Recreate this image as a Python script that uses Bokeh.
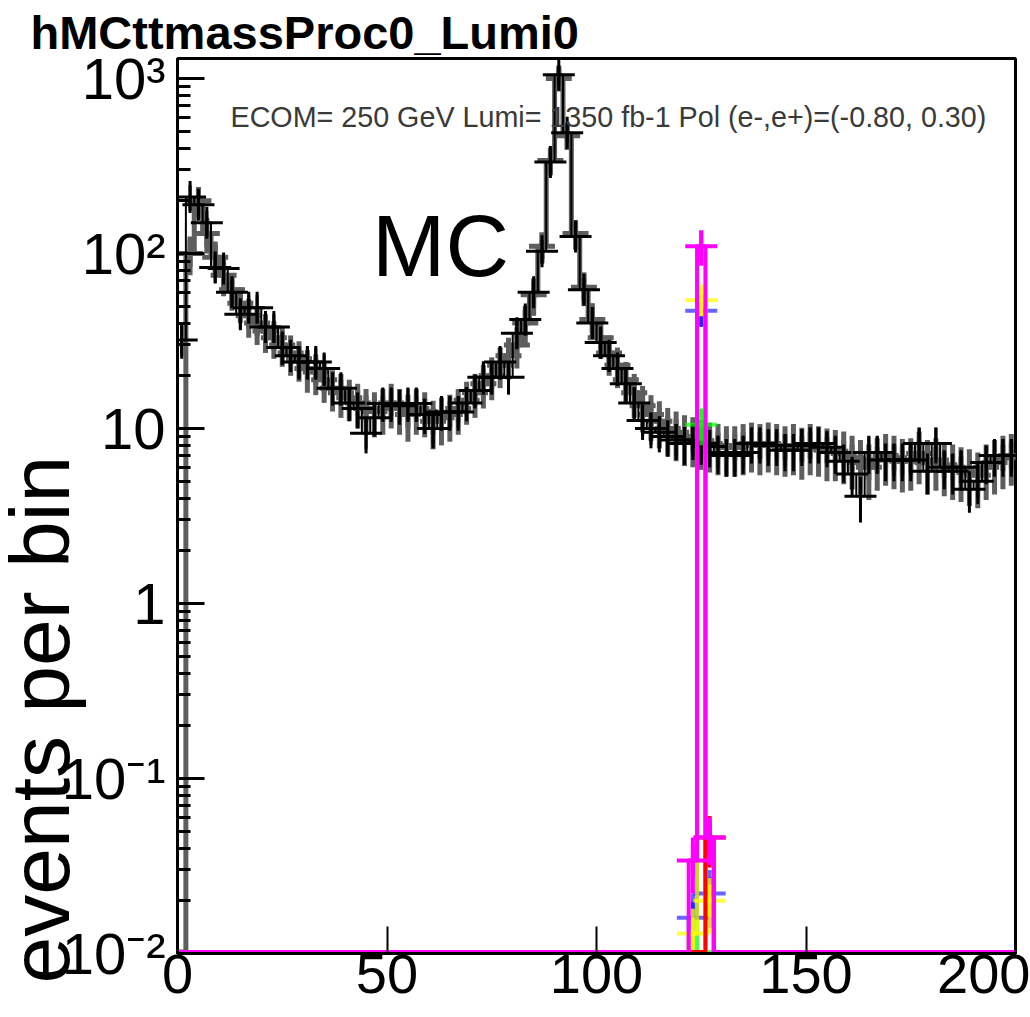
import math
from bokeh.plotting import figure
from bokeh.models import Range1d, FixedTicker, Label, ColumnDataSource, Title
from bokeh.embed import file_html
from bokeh.resources import INLINE

# ---------------- data ----------------
x_start, x_end = 0.0, 200.0
y_start, y_end = 0.01, 1300.0
bin_width = 2.0
n_bins = 100

# MC (black, with errors) - 2 GeV bins, centres 1..199
mc_black = [
    32, 210, 190, 150, 83, 82, 60, 45, 49, 49,
    38, 38, 29, 26, 24, 24, 24, 22, 17, 17,
    14, 13, 9.4, 11.5, 13.9, 13.9, 13.5, 13.9, 13.9, 12,
    10, 12.4, 12.4, 12.4, 14, 16.5, 19.6, 19.6, 24, 19.6,
    35, 42, 60, 103, 333, 1050, 490, 125, 62, 40,
    31, 26, 22, 18, 14, 11.1, 10, 9.5, 9, 8.6,
    8.2, 8.6, 8.2, 7.9, 7.3, 7.0, 7.0, 7.3, 8.2, 8.2,
    8.0, 8.0, 7.5, 7.5, 8.0, 8.2, 8.2, 7.8, 7.3, 6.5,
    5.5, 4.1, 7.3, 7.3, 6.6, 6.6, 6.6, 6.6, 8.2, 5.7,
    8.2, 6.0, 5.7, 6.0, 4.5, 5.0, 6.4, 7.0, 7.0, 7.0,
]
mc_black_err = [
    7, 35, 30, 25, 15, 15, 11, 8, 9, 9,
    7, 7, 6, 5, 5, 5, 5, 4.5, 3.5, 3.5,
    3, 3, 2.2, 2.5, 3, 3, 3, 3, 3, 2.7,
    2.3, 2.7, 2.7, 2.7, 3, 3.5, 4, 4, 5, 4,
    6, 8, 10, 16, 40, 130, 60, 18, 10, 7,
    6, 5, 4.5, 4, 3, 2.5, 2.3, 2.2, 2.1, 2,
    2, 2, 2, 1.9, 1.8, 1.7, 1.7, 1.8, 1.9, 1.9,
    1.9, 1.9, 1.8, 1.8, 1.9, 1.9, 1.9, 1.8, 1.8, 1.6,
    1.4, 1.2, 1.8, 1.8, 1.6, 1.6, 1.6, 1.6, 1.9, 1.5,
    1.9, 1.5, 1.5, 1.5, 1.2, 1.3, 1.6, 1.7, 1.7, 1.7,
]
# MC (grey histogram)
mc_gray = [
    0, 100, 200, 130, 95, 75, 62, 52, 44, 40,
    36, 33, 30, 27, 25, 22, 21, 19, 17, 16,
    15, 14, 13, 12.5, 13, 14, 13, 12, 13, 12.5,
    11, 11.5, 12, 13, 14.5, 16, 18, 20, 23, 26,
    30, 40, 58, 110, 340, 1000, 470, 130, 64, 42,
    33, 27, 23, 19, 16, 13.5, 12, 11, 10, 9.5,
    9, 8.8, 8.5, 8.2, 8, 7.8, 7.8, 8, 8.2, 8,
    8.2, 8, 7.8, 8, 7.6, 8, 7.8, 7.5, 7.4, 7.2,
    6.8, 6.4, 6.0, 6.6, 7, 6.8, 6.5, 6.6, 7.2, 6.4,
    6.6, 6.2, 6.0, 5.8, 5.6, 5.4, 6.0, 6.4, 6.8, 7.0,
]
mc_gray_err = [
    0, 25, 40, 30, 22, 18, 15, 12, 11, 10,
    9, 8, 7.5, 7, 6.5, 6, 5.5, 5, 4.5, 4.5,
    4, 4, 3.8, 3.6, 3.8, 4, 3.8, 3.6, 3.8, 3.6,
    3.4, 3.5, 3.6, 3.8, 4, 4.5, 5, 5.5, 6, 7,
    8, 10, 14, 22, 60, 150, 80, 25, 14, 10,
    8, 7, 6, 5, 4.5, 4, 3.5, 3.3, 3.1, 3,
    2.9, 2.8, 2.7, 2.6, 2.6, 2.5, 2.5, 2.6, 2.6, 2.6,
    2.6, 2.6, 2.5, 2.6, 2.5, 2.6, 2.5, 2.5, 2.4, 2.4,
    2.3, 2.2, 2.1, 2.2, 2.3, 2.3, 2.2, 2.2, 2.4, 2.2,
    2.2, 2.1, 2.1, 2.0, 2.0, 1.9, 2.1, 2.2, 2.3, 2.3,
]

# Higgs signal histograms (non-empty bins only)
sig_centers = [123, 125, 127]
sig_green = [0, 10.5, 0]
sig_green_err = [0, 2.5, 0]
sig_blue = [0.016, 47, 0.022]
sig_blue_err = [0.006, 9, 0.008]
sig_yellow = [0.013, 54, 0.020]
sig_yellow_err = [0.005, 10, 0.007]
sig_red = [0, 0, 0.046]
sig_red_err = [0, 0, 0.015]
sig_magenta = [0.034, 110, 0.046]
sig_magenta_err = [0.012, 25, 0.014]

x_ticks = [0, 50, 100, 150, 200]
y_ticks = [0.01, 0.1, 1, 10, 100, 1000]
y_tick_labels = {0.01: "10\u207b\u00b2", 0.1: "10\u207b\u00b9", 1: "1", 10: "10",
                 100: "10\u00b2", 1000: "10\u00b3"}

title_text = "hMCttmassProc0_Lumi0"
info_text = "ECOM=  250 GeV Lumi= 1350 fb-1 Pol (e-,e+)=(-0.80, 0.30)"
mc_text = "MC"
y_title = "events per bin"

# ---------------- layout ----------------
W, H = 1030, 1017
FL, FR, FT, FB = 177, 15, 58, 64
y_floor = 0.0102  # values below the axis minimum are drawn on the frame bottom
font = "Liberation Sans"

p = figure(width=W, height=H, x_range=Range1d(x_start, x_end),
           y_range=Range1d(y_start, y_end), y_axis_type="log",
           output_backend="svg", toolbar_location=None,
           min_border_left=FL, min_border_right=FR,
           min_border_top=FT, min_border_bottom=FB,
           title=title_text)
p.background_fill_color = "white"
p.border_fill_color = "white"
p.outline_line_color = "black"
p.outline_line_width = 3
p.xgrid.visible = False
p.ygrid.visible = False

p.title.text_font = font
p.title.text_font_style = "bold"
p.title.text_font_size = "47px"
p.title.text_color = "black"
p.title.align = "left"
p.title.offset = 30 - FL
p.title.standoff = 0


def px_to_x(px):
    return x_start + (px - FL) / (W - FL - FR) * (x_end - x_start)


def py_to_y(py):
    frac = (H - FB - py) / (H - FT - FB)
    l0, l1 = math.log10(y_start), math.log10(y_end)
    return 10 ** (l0 + frac * (l1 - l0))


edges = [x_start + i * bin_width for i in range(n_bins + 1)]
centers = [x_start + (i + 0.5) * bin_width for i in range(n_bins)]


def fl(v):
    return max(v, y_floor)


def step_xy(vals):
    ys = [fl(v) for v in vals]
    return edges, ys + [ys[-1]]


def draw_hist(vals, errs, xs, color, lw, mk_size, mk_lw, full_vals=None, alpha=1.0):
    sx, sy = step_xy(full_vals if full_vals is not None else vals)
    p.step(sx, sy, mode="after", line_color=color, line_width=lw, line_alpha=alpha)
    px_, py_, lo, hi = [], [], [], []
    for x, v, e in zip(xs, vals, errs):
        if v > 0:
            px_.append(x)
            py_.append(v)
            lo.append(fl(v - e) if v - e > 0 else y_floor)
            hi.append(v + e)
    src = ColumnDataSource(dict(x=px_, y=py_, lo=lo, hi=hi))
    p.segment(x0="x", x1="x", y0="lo", y1="hi", source=src,
              line_color=color, line_width=mk_lw, line_alpha=alpha)
    p.scatter(x="x", y="y", source=src, marker="cross", size=mk_size,
              line_color=color, line_width=mk_lw, line_alpha=alpha)


# grey MC
draw_hist(mc_gray, mc_gray_err, centers, "#5e5e5e", 5, 26, 5)
# black MC
draw_hist(mc_black, mc_black_err, centers, "black", 2, 32, 3)


def full_from_sig(sig):
    full = [0.0] * n_bins
    for c, v in zip(sig_centers, sig):
        full[int((c - x_start) // bin_width)] = v
    return full


for vals, errs, col, a in [
    (sig_green, sig_green_err, "#00ff00", 0.7),
    (sig_blue, sig_blue_err, "#0000ff", 0.6),
    (sig_yellow, sig_yellow_err, "#ffff00", 0.75),
    (sig_red, sig_red_err, "#ff0000", 1.0),
    (sig_magenta, sig_magenta_err, "#ff00ff", 1.0),
]:
    draw_hist(vals, errs, sig_centers, col, 4, 32, 4, full_vals=full_from_sig(vals), alpha=a)

# ---------------- axes ----------------
xa = p.xaxis[0]
xa.ticker = FixedTicker(ticks=x_ticks, minor_ticks=[])
xa.major_label_text_font = font
xa.major_label_text_font_size = "56px"
xa.major_label_text_color = "black"
xa.major_label_standoff = 1
xa.major_tick_in = 27
xa.major_tick_out = 0
xa.minor_tick_in = 0
xa.minor_tick_out = 0
xa.axis_line_width = 3
xa.major_tick_line_width = 2

minor = []
for k in range(-2, 4):
    for m in range(2, 10):
        minor.append(m * 10.0 ** k)
ya = p.yaxis[0]
ya.ticker = FixedTicker(ticks=y_ticks, minor_ticks=minor)
ya.major_label_overrides = y_tick_labels
ya.major_label_text_font = font
ya.major_label_text_font_size = "58px"
ya.major_label_text_color = "black"
ya.major_label_standoff = 12
ya.major_tick_in = 27
ya.major_tick_out = 0
ya.minor_tick_in = 13
ya.minor_tick_out = 0
ya.axis_line_width = 3
ya.major_tick_line_width = 3
ya.minor_tick_line_width = 3

# y-axis title as a side title, starting near the bottom of the frame
ytitle = Title(text=y_title, align="left", offset=-30, standoff=-56,
               text_font=font, text_font_style="normal", text_font_size="84px",
               text_color="black")
p.add_layout(ytitle, "left")

# ---------------- texts ----------------
p.add_layout(Label(x=px_to_x(440), y=py_to_y(245), text=mc_text, text_font=font,
                   text_font_size="88px", text_align="center",
                   text_baseline="alphabetic", text_color="black"))
p.add_layout(Label(x=px_to_x(230), y=py_to_y(116), text=info_text, text_font=font,
                   text_font_size="28.7px", text_align="left",
                   text_baseline="alphabetic", text_color="#3a3a3a"))

open("out.html", "w").write(file_html(p, INLINE))
